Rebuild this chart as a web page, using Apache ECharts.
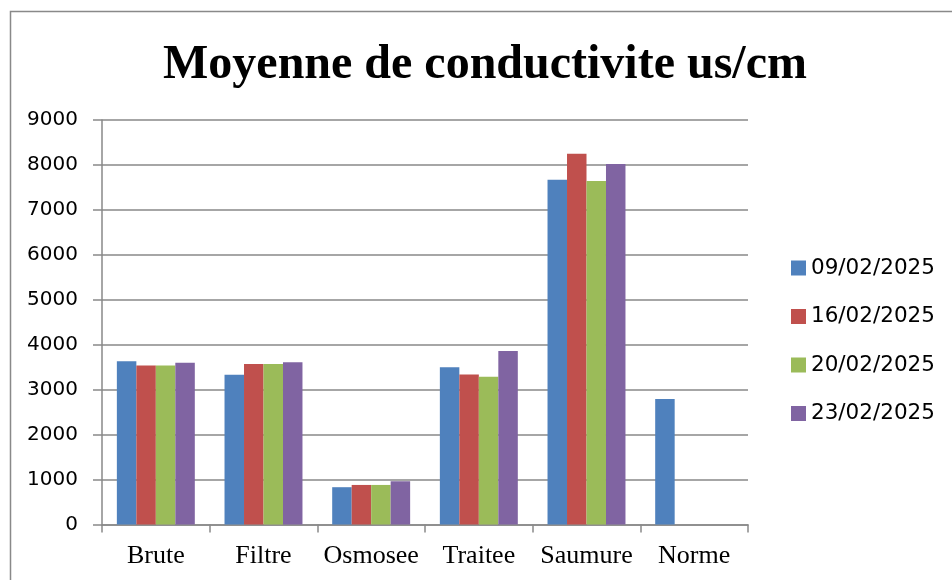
<!DOCTYPE html>
<html>
<head>
<meta charset="utf-8">
<script src="https://cdn.jsdelivr.net/npm/echarts@6/dist/echarts.min.js"></script>
<style>
  html, body { margin: 0; padding: 0; background: #fff; }
  #chart { width: 952px; height: 580px; }
</style>
</head>
<body>
<div id="chart"></div>
<script>
// data
var categories = ["Brute", "Filtre", "Osmosee", "Traitee", "Saumure", "Norme"];
var seriesNames = ["09/02/2025", "16/02/2025", "20/02/2025", "23/02/2025"];
var s0902 = [3630, 3330, 830, 3500, 7670, 2790];
var s1602 = [3540, 3570, 880, 3340, 8250, 0];
var s2002 = [3540, 3570, 880, 3290, 7640, 0];
var s2302 = [3600, 3610, 960, 3860, 8020, 0];
var seriesValues = [s0902, s1602, s2002, s2302];
var colors = ["#4F81BD", "#C0504D", "#9BBB59", "#8064A2"];

var axisGrey = "#898989";

var myChart = echarts.init(document.getElementById("chart"));

var series = [];
for (var i = 0; i < seriesNames.length; i++) {
  series.push({
    name: seriesNames[i],
    type: "bar",
    barGap: "0%",
    barCategoryGap: "27.6%",
    itemStyle: { color: colors[i] },
    data: seriesValues[i]
  });
}

myChart.setOption({
  animation: false,
  color: colors,
  graphic: [
    {
      type: "rect",
      shape: { x: 10.5, y: 11.5, width: 960, height: 600 },
      style: { fill: "none", stroke: axisGrey, lineWidth: 1.5 },
      silent: true
    }
  ],
  title: {
    text: "Moyenne de conductivite us/cm",
    left: 480,
    textAlign: "center",
    top: 37,
    textStyle: {
      fontFamily: "Liberation Serif",
      fontWeight: "bold",
      fontSize: 48,
      color: "#000"
    }
  },
  legend: {
    orient: "vertical",
    left: 786,
    top: 252,
    itemWidth: 15,
    itemHeight: 15,
    itemGap: 26.5,
    icon: "rect",
    textStyle: {
      fontFamily: "DejaVu Sans",
      fontSize: 21.5,
      lineHeight: 20,
      color: "#000"
    },
    data: seriesNames
  },
  grid: {
    left: 102,
    right: 204,
    top: 120,
    bottom: 55.5,
    containLabel: false
  },
  xAxis: {
    type: "category",
    data: categories,
    axisLine: { lineStyle: { color: axisGrey, width: 1.5 } },
    axisTick: { show: true, length: 8, alignWithLabel: false, lineStyle: { color: axisGrey, width: 1.5 } },
    axisLabel: {
      fontFamily: "Liberation Serif",
      fontSize: 26,
      color: "#000",
      margin: 19,
      interval: 0
    }
  },
  yAxis: {
    type: "value",
    min: 0,
    max: 9000,
    interval: 1000,
    axisLine: { show: true, lineStyle: { color: axisGrey, width: 1.5 } },
    axisTick: { show: true, length: 9, lineStyle: { color: axisGrey, width: 1.5 } },
    splitLine: { show: true, lineStyle: { color: axisGrey, width: 1.5 } },
    axisLabel: {
      fontFamily: "DejaVu Sans",
      fontSize: 20,
      color: "#000",
      margin: 24,
      formatter: function (v) { return String(v); }
    }
  },
  series: series
});
</script>
</body>
</html>
